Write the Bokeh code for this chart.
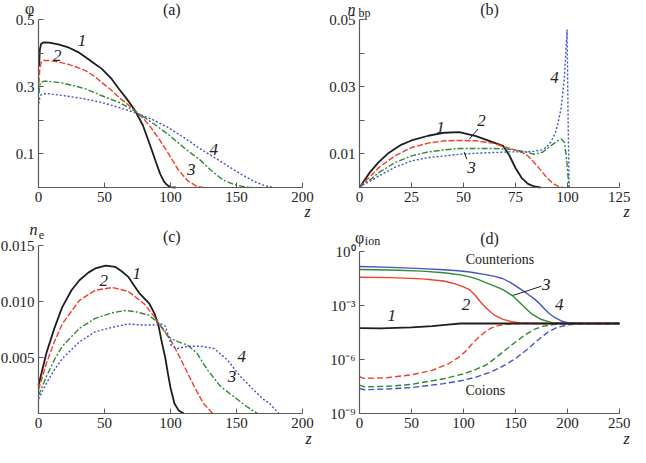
from bokeh.plotting import figure
from bokeh.layouts import column, row
from bokeh.models import Range1d, FixedTicker, PrintfTickFormatter, CustomJSTickFormatter, Label
from bokeh.embed import file_html
from bokeh.resources import INLINE
import numpy as np

# ---------------- data ----------------
# (a) phi vs z
A_Z1 = [0.5, 1, 2, 4, 8, 15, 22, 30, 36, 42, 48, 55, 61, 67, 73, 79, 85.6, 89, 92, 95, 97, 100, 104]
A_P1 = [0.36, 0.41, 0.428, 0.432, 0.431, 0.426, 0.418, 0.403, 0.387, 0.37, 0.353, 0.325, 0.293, 0.263, 0.23, 0.186, 0.114, 0.075, 0.042, 0.018, 0.009, 0.001, 0.0]
A_Z2 = [0.3, 1, 2, 4, 8, 15, 22, 29, 36, 42, 48, 55, 61, 67, 73, 80, 86, 92, 98, 105.5, 113, 120, 125]
A_P2 = [0.31, 0.355, 0.372, 0.378, 0.378, 0.374, 0.367, 0.358, 0.347, 0.332, 0.3125, 0.29, 0.268, 0.249, 0.228, 0.203, 0.174, 0.14, 0.104, 0.055, 0.02, 0.003, 0.0]
A_Z3 = [0.3, 1, 2, 4, 8, 18, 28, 36, 48, 61, 73, 86, 98, 110, 123, 131, 140, 148, 155, 162]
A_P3 = [0.28, 0.305, 0.313, 0.316, 0.316, 0.311, 0.302, 0.293, 0.273, 0.253, 0.228, 0.193, 0.159, 0.119, 0.08, 0.05, 0.022, 0.009, 0.003, 0.0]
A_Z4 = [0.3, 1, 2, 4, 8, 18, 28, 36, 48, 61, 73, 86, 98, 110, 123, 133, 143, 155, 165, 172, 178]
A_P4 = [0.25, 0.268, 0.276, 0.279, 0.279, 0.274, 0.268, 0.263, 0.253, 0.238, 0.223, 0.203, 0.179, 0.149, 0.114, 0.09, 0.065, 0.036, 0.015, 0.005, 0.0]

# (b) n_bp vs z
B_Z1 = [0, 2, 5, 9, 14, 20, 25, 33, 41, 48, 56, 64, 69, 72, 75, 78, 81, 84, 87]
B_N1 = [0, 0.0018, 0.0045, 0.0074, 0.0103, 0.0127, 0.014, 0.0154, 0.0163, 0.0165, 0.0153, 0.0135, 0.0124, 0.0096, 0.0058, 0.0028, 0.0011, 0.0003, 0]
B_Z2 = [0, 2, 5.5, 9.4, 17, 25, 33, 41, 48, 56, 64, 72, 78, 81, 86, 90, 93, 96, 98]
B_N2 = [0, 0.0014, 0.0035, 0.006, 0.0094, 0.0119, 0.0132, 0.0139, 0.014, 0.0139, 0.0132, 0.0117, 0.0105, 0.0094, 0.006, 0.003, 0.0012, 0.0002, 0]
B_Z3 = [0, 2, 5.5, 9.4, 17, 25, 33, 41, 48, 56, 64, 72, 80, 84, 88, 92, 95, 97, 98.5, 99.5, 100.3, 100.8]
B_N3 = [0, 0.0011, 0.0025, 0.0045, 0.0074, 0.0094, 0.0106, 0.0112, 0.0116, 0.0116, 0.0116, 0.0114, 0.0106, 0.0099, 0.0105, 0.0124, 0.0138, 0.0144, 0.0135, 0.009, 0.003, 0]
B_Z4 = [0, 2, 5.5, 9.4, 17, 25, 33, 41, 48, 56, 64, 72, 80, 84, 87.5, 90, 92.2, 94, 95.3, 96.9, 98.4, 99.2, 99.8, 100.3, 100.8]
B_N4 = [0, 0.0009, 0.002, 0.0035, 0.006, 0.0079, 0.0089, 0.0094, 0.0099, 0.0102, 0.0104, 0.0106, 0.0106, 0.0108, 0.0112, 0.012, 0.0138, 0.016, 0.0187, 0.0235, 0.032, 0.04, 0.047, 0.02, 0]

# (c) n_e vs z
C_Z1 = [0, 6, 12, 18, 25, 31, 38, 43, 51, 58, 63, 68, 72, 76, 80, 84, 88, 91, 93, 96, 98, 100, 103, 106, 110]
C_N1 = [0.0025, 0.0054, 0.0076, 0.0095, 0.011, 0.0119, 0.0126, 0.01295, 0.0132, 0.0131, 0.0127, 0.0122, 0.0115, 0.0108, 0.0103, 0.0098, 0.0089, 0.0078, 0.0066, 0.005, 0.0036, 0.0023, 0.0009, 0.0003, 0]
C_Z2 = [0, 6, 12, 18, 31, 43, 56, 68, 80, 88, 93, 100, 108, 118, 125, 132]
C_N2 = [0.0021, 0.0045, 0.0064, 0.008, 0.0101, 0.011, 0.01125, 0.0109, 0.0098, 0.0086, 0.0077, 0.0066, 0.0048, 0.0024, 0.0009, 0]
C_Z3 = [0, 6, 12, 18, 31, 43, 56, 66, 73, 83, 90, 95, 98, 102, 106, 113, 120, 128, 138, 148, 158, 163, 166]
C_N3 = [0.0016, 0.0033, 0.0048, 0.006, 0.0076, 0.0085, 0.009, 0.0092, 0.0091, 0.0088, 0.0082, 0.0075, 0.0069, 0.0066, 0.0064, 0.0061, 0.0054, 0.0039, 0.0024, 0.0015, 0.0006, 0.0002, 0]
C_Z4 = [0, 6, 12, 18, 31, 43, 56, 68, 78, 86, 93, 96, 98, 100.5, 105, 113, 123, 133, 143, 153, 163, 170, 175, 179, 182]
C_N4 = [0.0013, 0.0027, 0.0039, 0.0049, 0.0064, 0.0073, 0.0077, 0.008, 0.0079, 0.0079, 0.008, 0.0078, 0.0071, 0.0061, 0.0058, 0.006, 0.006, 0.0058, 0.0048, 0.0033, 0.0021, 0.0013, 0.0009, 0.0004, 0]

# (d) log10(phi_ion) vs z ; counterions (solid) and coions (dashed)
D_Z1 = [0, 20, 50, 70, 85, 97, 110, 250]
D_L1 = [-4.26, -4.27, -4.22, -4.15, -4.06, -4.0, -4.0, -4.0]
D_ZC2 = [0, 30, 60, 81, 92, 100, 106, 111, 116, 121, 126, 131, 138, 146, 155, 170, 250]
D_LC2 = [-1.43, -1.45, -1.52, -1.64, -1.8, -1.97, -2.13, -2.42, -2.78, -3.1, -3.36, -3.58, -3.77, -3.9, -3.97, -4.0, -4.0]
D_ZC3 = [0, 30, 60, 81, 97, 106, 114, 122, 130, 137.5, 147, 156, 165, 175, 185, 200, 250]
D_LC3 = [-1.0, -1.03, -1.09, -1.18, -1.3, -1.41, -1.55, -1.74, -1.92, -2.1, -2.45, -2.95, -3.45, -3.78, -3.95, -4.0, -4.0]
D_ZC4 = [0, 30, 60, 81, 95, 106, 120, 130, 137.5, 145, 153, 161, 168.7, 174, 178, 183, 188, 194, 200, 210, 225, 250]
D_LC4 = [-0.83, -0.88, -0.95, -1.01, -1.07, -1.14, -1.27, -1.38, -1.5, -1.72, -2.02, -2.33, -2.66, -2.95, -3.2, -3.47, -3.68, -3.86, -3.95, -3.99, -4.0, -4.0]
D_ZA2 = [0, 4, 25, 50, 70, 85, 95, 102, 108, 114, 120, 126, 132, 140, 155, 250]
D_LA2 = [-6.95, -7.05, -7.02, -6.85, -6.6, -6.25, -5.9, -5.55, -5.15, -4.8, -4.5, -4.27, -4.13, -4.05, -4.0, -4.0]
D_ZA3 = [0, 5, 30, 50, 81, 100, 112, 122, 130, 137.5, 145, 153, 160, 168, 176, 185, 195, 210, 250]
D_LA3 = [-7.42, -7.52, -7.48, -7.38, -7.07, -6.8, -6.55, -6.3, -5.95, -5.6, -5.25, -4.9, -4.6, -4.33, -4.16, -4.07, -4.02, -4.0, -4.0]
D_ZA4 = [0, 5, 30, 50, 81, 100, 112, 128, 140, 150, 160, 168, 175, 182, 190, 200, 215, 230, 250]
D_LA4 = [-7.6, -7.68, -7.63, -7.56, -7.34, -7.15, -6.98, -6.65, -6.3, -5.95, -5.5, -5.1, -4.75, -4.45, -4.22, -4.08, -4.01, -4.0, -4.0]

# axis limits and tick values
A_XLIM, A_YLIM = (0, 200), (0, 0.5)
B_XLIM, B_YLIM = (0, 125), (0, 0.05)
C_XLIM, C_YLIM = (0, 200), (0, 0.015)
D_XLIM, D_YLIM = (0, 250), (1e-9, 1.0)
A_XT = [0, 50, 100, 150, 200]
A_YT = [0.1, 0.3, 0.5]
A_YM = [0.2, 0.4]
B_XT = [0, 25, 50, 75, 100, 125]
B_YT = [0.01, 0.03, 0.05]
B_YM = [0.02, 0.04]
C_XT = [0, 50, 100, 150, 200]
C_YT = [0.005, 0.010, 0.015]
D_XT = [0, 50, 100, 150, 200, 250]
D_YT = [1e-9, 1e-6, 1e-3, 1e0]

# curve annotations (text, x, y)
A_LAB = [("1", 33, 0.437), ("2", 14.2, 0.393), ("3", 115.7, 0.054), ("4", 132.8, 0.113)]
B_LAB = [("1", 39, 0.0179), ("2", 58.6, 0.0198), ("3", 53.9, 0.006), ("4", 93.7, 0.0327)]
B_LEAD2 = ([57, 52.8], [0.0174, 0.0144])
B_LEAD3 = ([51.6, 50.3], [0.0084, 0.0106])
C_LAB = [("1", 74.4, 0.0125), ("2", 49.5, 0.0119), ("3", 146.5, 0.00327), ("4", 154, 0.00506)]
D_LAB = [("1", 31, -3.58), ("2", 102.5, -2.94), ("3", 179.6, -1.83), ("4", 192, -2.94)]
D_LEAD3 = ([174.9, 147.5], [-1.93, -2.44])
D_TXT = [("Counterions", 135, -0.42), ("Coions", 121, -7.71)]

# ---------------- layout / styling ----------------
FONT = "Liberation Serif"
BLACK = "#1e1e1e"
RED = "#f0402c"
GREEN = "#2f8a34"
BLUE = "#4552c4"
AXC = "#5a5a5a"
TXT = "#222222"
DASH2 = "6 2"
DASH3 = "6 2 2 2"
DASH4 = "2 2"
W1, W2 = 321, 309
H1, H2 = 220, 227
# pixel box (inside each figure) spanned by the axis limits: left, right, bottom, top
BOX_A = (38, 302, 187, 19)
BOX_B = (38, 298, 187, 19)
BOX_C = (38, 302, 193, 25)
BOX_D = (38, 298, 193, 31)


def ext(d0, d1, p0, p1, f0, f1):
    s = (d1 - d0) / (p1 - p0)
    return d0 + (f0 - p0) * s, d0 + (f1 - p0) * s


def make_fig(w, h, xlim, ylim, box, ytype="linear"):
    l, r, b, t = box
    xr = ext(xlim[0], xlim[1], l, r, 0, w)
    if ytype == "log":
        lo, hi = ext(np.log10(ylim[0]), np.log10(ylim[1]), b, t, h, 0)
        yr = (10.0 ** lo, 10.0 ** hi)
    else:
        yr = ext(ylim[0], ylim[1], b, t, h, 0)
    p = figure(width=w, height=h, x_range=Range1d(*xr), y_range=Range1d(*yr),
               y_axis_type=ytype, output_backend="svg", toolbar_location=None,
               min_border=0, min_border_left=0, min_border_right=0,
               min_border_top=0, min_border_bottom=0)
    p.title.visible = False
    p.outline_line_color = None
    p.grid.visible = False
    p.background_fill_color = "white"
    p.border_fill_color = "white"
    p.xaxis[0].fixed_location = ylim[0]
    p.yaxis[0].fixed_location = xlim[0]
    p.xaxis[0].bounds = xlim
    p.yaxis[0].bounds = ylim
    for ax in (p.xaxis[0], p.yaxis[0]):
        ax.axis_line_color = AXC
        ax.axis_line_width = 1.2
        ax.major_tick_line_color = AXC
        ax.minor_tick_line_color = AXC
        ax.major_tick_in = 5
        ax.major_tick_out = 0
        ax.minor_tick_in = 5
        ax.minor_tick_out = 0
        ax.major_label_text_font = FONT
        ax.major_label_text_font_size = "15px"
        ax.major_label_text_color = TXT
        ax.major_label_standoff = 4
    return p


def lab(p, txt, x, y, size="17px", style="italic", xo=0, yo=0):
    p.add_layout(Label(x=x, y=y, text=txt, x_offset=xo, y_offset=yo, text_font=FONT,
                       text_font_size=size, text_font_style=style, text_color=TXT,
                       text_align="center", text_baseline="middle"))


# (a)
pa = make_fig(W1, H1, A_XLIM, A_YLIM, BOX_A)
pa.xaxis.ticker = FixedTicker(ticks=A_XT, minor_ticks=[])
pa.yaxis.ticker = FixedTicker(ticks=A_YT, minor_ticks=A_YM)
pa.yaxis.formatter = PrintfTickFormatter(format="%.1f")
pa.line(A_Z1, A_P1, line_color=BLACK, line_width=1.8)
pa.line(A_Z2, A_P2, line_color=RED, line_width=1.4, line_dash=DASH2)
pa.line(A_Z3, A_P3, line_color=GREEN, line_width=1.4, line_dash=DASH3)
pa.line(A_Z4, A_P4, line_color=BLUE, line_width=1.4, line_dash=DASH4)
for t, x, y in A_LAB:
    lab(pa, t, x, y)
lab(pa, "(a)", 101, A_YLIM[1], size="16px", style="normal", yo=10)
lab(pa, "\u03c6", 0, A_YLIM[1], size="16px", style="normal", xo=-9, yo=11)
lab(pa, "z", 200, 0, size="16px", xo=5, yo=-24)

# (b)
pb = make_fig(W2, H1, B_XLIM, B_YLIM, BOX_B)
pb.xaxis.ticker = FixedTicker(ticks=B_XT, minor_ticks=[])
pb.yaxis.ticker = FixedTicker(ticks=B_YT, minor_ticks=B_YM)
pb.yaxis.formatter = PrintfTickFormatter(format="%.2f")
pb.line(B_Z1, B_N1, line_color=BLACK, line_width=1.8)
pb.line(B_Z2, B_N2, line_color=RED, line_width=1.4, line_dash=DASH2)
pb.line(B_Z3, B_N3, line_color=GREEN, line_width=1.4, line_dash=DASH3)
pb.line(B_Z4, B_N4, line_color=BLUE, line_width=1.4, line_dash=DASH4)
pb.line(B_LEAD2[0], B_LEAD2[1], line_color=BLACK, line_width=1)
pb.line(B_LEAD3[0], B_LEAD3[1], line_color=BLACK, line_width=1)
for t, x, y in B_LAB:
    lab(pb, t, x, y)
lab(pb, "(b)", 62.5, B_YLIM[1], size="16px", style="normal", yo=10)
lab(pb, "n", 0, B_YLIM[1], size="16px", xo=-8, yo=10)
lab(pb, "bp", 0, B_YLIM[1], size="12px", style="normal", xo=5, yo=7)
lab(pb, "z", 125, 0, size="16px", xo=7, yo=-24)

# (c)
pc = make_fig(W1, H2, C_XLIM, C_YLIM, BOX_C)
pc.xaxis.ticker = FixedTicker(ticks=C_XT, minor_ticks=[])
pc.yaxis.ticker = FixedTicker(ticks=C_YT, minor_ticks=[])
pc.yaxis.formatter = PrintfTickFormatter(format="%.3f")
pc.line(C_Z1, C_N1, line_color=BLACK, line_width=1.8)
pc.line(C_Z2, C_N2, line_color=RED, line_width=1.4, line_dash=DASH2)
pc.line(C_Z3, C_N3, line_color=GREEN, line_width=1.4, line_dash=DASH3)
pc.line(C_Z4, C_N4, line_color=BLUE, line_width=1.4, line_dash=DASH4)
for t, x, y in C_LAB:
    lab(pc, t, x, y)
lab(pc, "(c)", 101, C_YLIM[1], size="16px", style="normal", yo=9)
lab(pc, "n", 0, C_YLIM[1], size="16px", xo=-5, yo=16)
lab(pc, "e", 0, C_YLIM[1], size="12px", style="normal", xo=3, yo=11)
lab(pc, "z", 200, 0, size="16px", xo=6, yo=-25)

# (d)
pd = make_fig(W2, H2, D_XLIM, D_YLIM, BOX_D, ytype="log")
pd.xaxis.ticker = FixedTicker(ticks=D_XT, minor_ticks=[])
pd.yaxis.ticker = FixedTicker(ticks=D_YT, minor_ticks=[])
pd.yaxis.formatter = CustomJSTickFormatter(code="""
const e = Math.round(Math.log10(tick));
const sup = {'0':'\u2070','1':'\u00b9','2':'\u00b2','3':'\u00b3','4':'\u2074','5':'\u2075','6':'\u2076','7':'\u2077','8':'\u2078','9':'\u2079','-':'\u207b'};
return '10' + String(e).split('').map(c => sup[c]).join('');
""")
p10 = lambda v: list(10.0 ** np.array(v))
pd.line(D_ZC4, p10(D_LC4), line_color=BLUE, line_width=1.4)
pd.line(D_ZC3, p10(D_LC3), line_color=GREEN, line_width=1.4)
pd.line(D_ZC2, p10(D_LC2), line_color=RED, line_width=1.4)
pd.line(D_ZA4, p10(D_LA4), line_color=BLUE, line_width=1.4, line_dash="6 3")
pd.line(D_ZA3, p10(D_LA3), line_color=GREEN, line_width=1.4, line_dash="6 3")
pd.line(D_ZA2, p10(D_LA2), line_color=RED, line_width=1.4, line_dash="6 3")
pd.line(D_Z1, p10(D_L1), line_color=BLACK, line_width=1.8)
pd.line(D_LEAD3[0], p10(D_LEAD3[1]), line_color=BLACK, line_width=1)
for t, x, y in D_LAB:
    lab(pd, t, x, 10.0 ** y)
for t, x, y in D_TXT:
    lab(pd, t, x, 10.0 ** y, size="14px", style="normal")
lab(pd, "(d)", 125, D_YLIM[1], size="16px", style="normal", yo=13)
lab(pd, "\u03c6", 0, D_YLIM[1], size="16px", style="normal", xo=0, yo=14)
lab(pd, "ion", 0, D_YLIM[1], size="12px", style="normal", xo=13, yo=11)
lab(pd, "z", 250, D_YLIM[0], size="16px", xo=7, yo=-25)

layout = column(row(pa, pb), row(pc, pd))
open("out.html", "w").write(file_html(layout, INLINE))
